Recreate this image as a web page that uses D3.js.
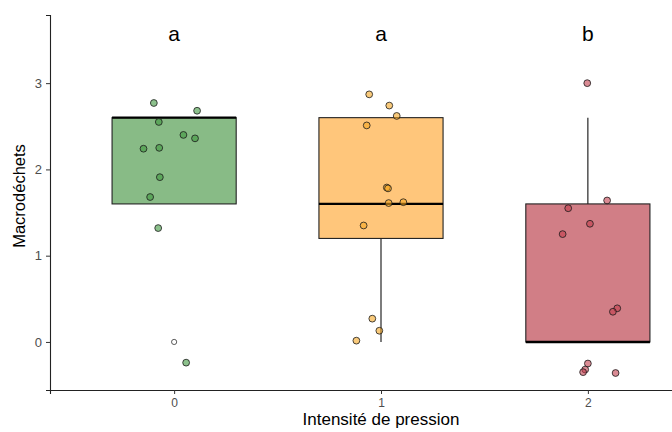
<!DOCTYPE html>
<html>
<head>
<meta charset="utf-8">
<script src="https://cdn.jsdelivr.net/npm/d3@7"></script>
<style>
  body { margin: 0; background: #fff; }
  svg { display: block; font-family: "Liberation Sans", Arial, sans-serif; }
</style>
</head>
<body>
<svg id="chart" width="672" height="432"></svg>
<script>
//  categories and summary stats
const groups = ["0", "1", "2"];
const q1 = [1.6, 1.2, 0];
const medians = [2.6, 1.6, 0];
const q3 = [2.6, 2.6, 1.6];
const whisker_low = [1.6, 0, 0];
const whisker_high = [2.6, 2.6, 2.6];
const letters = ["a", "a", "b"];
const letter_y = 3.57;

//  outliers (boxplot)
const outlier_group = ["0"];
const outlier_value = [0];

//  jittered points : group, x offset (fraction of step), value
const pts_group = ["0","0","0","0","0","0","0","0","0","0","0",
                   "1","1","1","1","1","1","1","1","1","1","1","1",
                   "2","2","2","2","2","2","2","2","2","2","2"];
const pts_dx = [-0.098, 0.111, -0.074, 0.045, 0.101, -0.148, -0.072, -0.069, -0.116, -0.077, 0.058,
                -0.057, 0.040, 0.076, -0.069, 0.028, 0.034, 0.037, 0.108, -0.084, -0.042, -0.008, -0.119,
                -0.003, 0.093, -0.095, 0.010, -0.122, 0.142, 0.121, 0.000, -0.013, -0.023, 0.134];
const pts_value = [2.77, 2.68, 2.55, 2.40, 2.36, 2.24, 2.25, 1.91, 1.68, 1.32, -0.24,
                   2.87, 2.74, 2.62, 2.51, 1.79, 1.78, 1.61, 1.62, 1.35, 0.27, 0.13, 0.015,
                   3.00, 1.64, 1.55, 1.37, 1.25, 0.39, 0.35, -0.25, -0.32, -0.35, -0.36];

const box_fill = {"0": "#88bb86", "1": "#ffc67b", "2": "#d17e86"};
const pt_fill = {"0": "#3f983f", "1": "#f5a623", "2": "#c23e4c"};

//  draw boxplot
function draw_boxplot() {
  const margin = ({top: 15, right: -40, bottom: 42, left: 50});
  const w = 672, h = 432;
  const svg = d3.select("#chart");

  const x = d3.scalePoint().domain(groups).range([margin.left, w - margin.right]).padding(0.6);
  const y = d3.scaleLinear().domain([-0.557, 3.79]).range([h - margin.bottom, margin.top]);
  const step = x.step();
  const bw = step * 0.6;

  //  boxes
  groups.forEach((g, i) => {
    const cx = x(g);
    svg.append("line")
      .attr("x1", cx).attr("x2", cx)
      .attr("y1", y(whisker_low[i])).attr("y2", y(q1[i]))
      .attr("stroke", "#111").attr("stroke-width", 1.1);
    svg.append("line")
      .attr("x1", cx).attr("x2", cx)
      .attr("y1", y(q3[i])).attr("y2", y(whisker_high[i]))
      .attr("stroke", "#111").attr("stroke-width", 1.1);
    svg.append("rect")
      .attr("x", cx - bw / 2).attr("y", y(q3[i]))
      .attr("width", bw).attr("height", y(q1[i]) - y(q3[i]))
      .attr("fill", box_fill[g]).attr("stroke", "#222").attr("stroke-width", 1.1);
    svg.append("line")
      .attr("x1", cx - bw / 2).attr("x2", cx + bw / 2)
      .attr("y1", y(medians[i])).attr("y2", y(medians[i]))
      .attr("stroke", "#000").attr("stroke-width", 2.4);
  });

  //  outliers
  outlier_group.forEach((g, i) => {
    svg.append("circle")
      .attr("cx", x(g)).attr("cy", y(outlier_value[i])).attr("r", 2.6)
      .attr("fill", "#fff").attr("stroke", "#333").attr("stroke-width", 0.8);
  });

  //  jittered points
  pts_value.forEach((v, i) => {
    const g = pts_group[i];
    svg.append("circle")
      .attr("cx", x(g) + pts_dx[i] * step).attr("cy", y(v)).attr("r", 3.4)
      .attr("fill", pt_fill[g]).attr("fill-opacity", 0.6)
      .attr("stroke", "#1a1a1a").attr("stroke-width", 0.8);
  });

  //  letters
  groups.forEach((g, i) => {
    svg.append("text")
      .attr("x", x(g)).attr("y", y(letter_y))
      .attr("text-anchor", "middle").attr("dominant-baseline", "central")
      .style("font-size", "21px").attr("fill", "#000")
      .text(letters[i]);
  });

  //  axes
  const xAxis = g => g
    .attr("transform", `translate(0,${h - margin.bottom})`)
    .call(d3.axisBottom(x).tickSizeOuter(0).tickSize(4).tickPadding(4));

  const yAxis = g => g
    .attr("transform", `translate(${margin.left},0)`)
    .call(d3.axisLeft(y).tickValues([0, 1, 2, 3]).tickFormat(d3.format("d")).tickSizeOuter(0).tickSize(4).tickPadding(4));

  svg.append("g").style("font-size", "12px").call(xAxis);
  svg.append("g").style("font-size", "13px").call(yAxis);

  svg.selectAll(".domain").attr("stroke", "#222").attr("stroke-width", 1.1);
  svg.selectAll(".tick line").attr("stroke", "#333");
  svg.selectAll(".tick text").attr("fill", "#4d4d4d").style("font-family", "Liberation Sans, Arial, sans-serif");

  //  axis titles
  svg.append("text")
    .attr("x", 381).attr("y", 425)
    .attr("text-anchor", "middle")
    .style("font-size", "17px").attr("fill", "#000")
    .text("Intensité de pression");

  svg.append("text")
    .attr("transform", `translate(25,196) rotate(-90)`)
    .attr("text-anchor", "middle")
    .style("font-size", "16.5px").attr("fill", "#000")
    .text("Macrodéchets");
}

draw_boxplot();
</script>
</body>
</html>
